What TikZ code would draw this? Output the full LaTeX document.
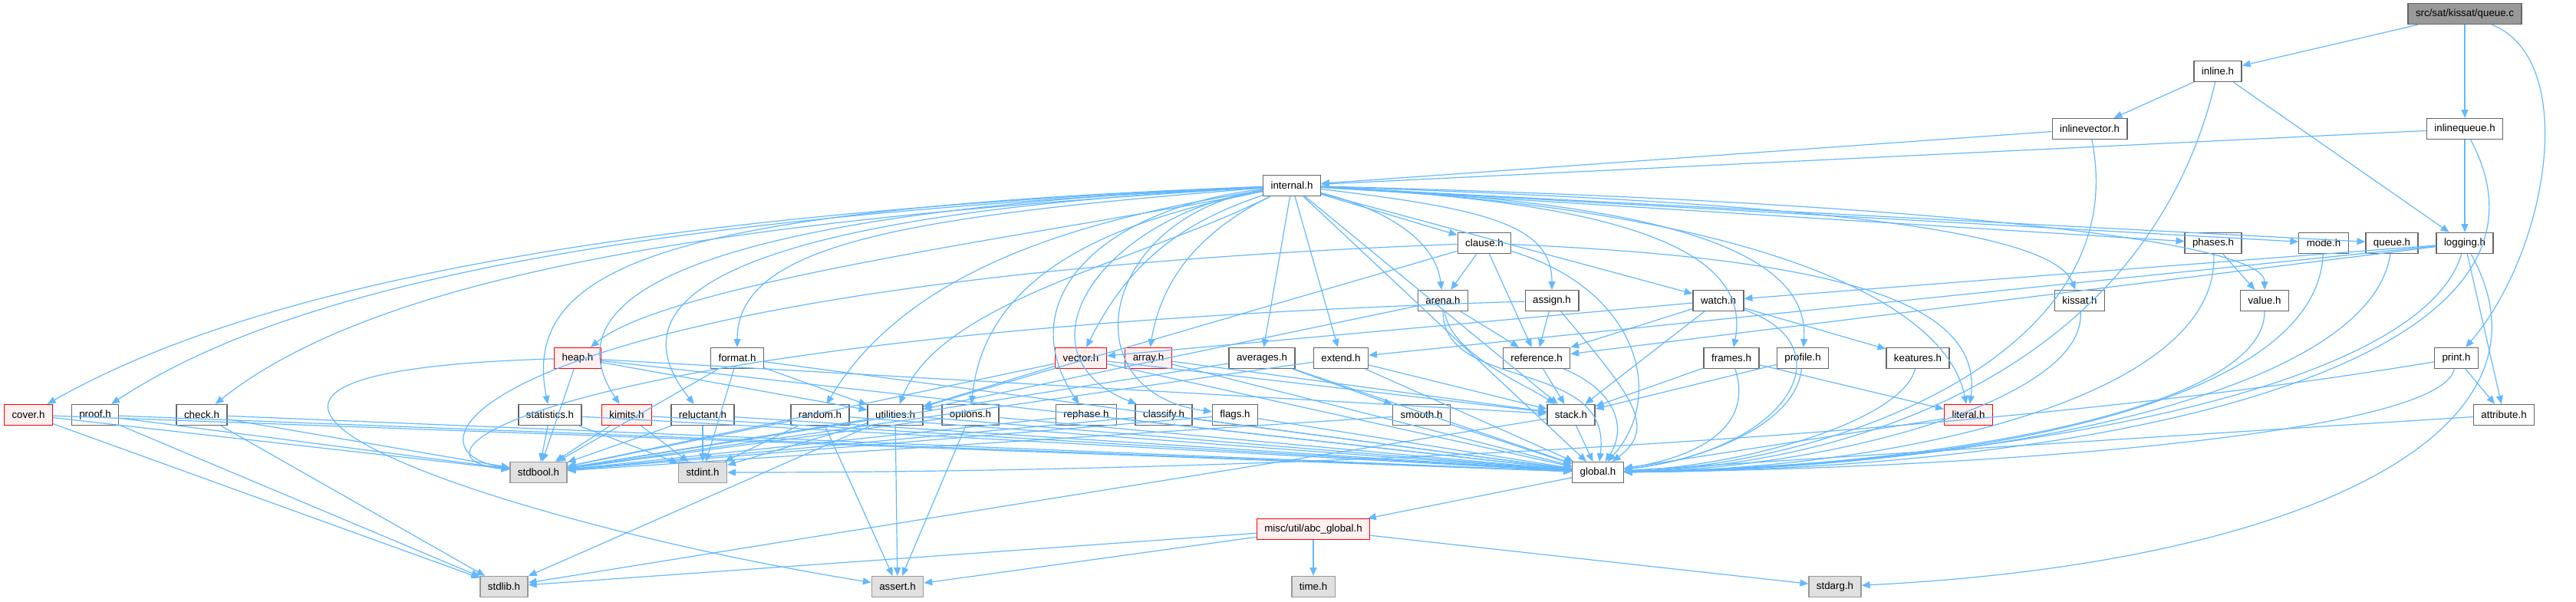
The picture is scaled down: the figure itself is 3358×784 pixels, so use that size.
\documentclass[tikz,border=0pt]{standalone}
\usepackage{fontspec}
\setmainfont{Liberation Sans}
\usetikzlibrary{arrows.meta}
\definecolor{edgec}{HTML}{63B8FF}
\definecolor{bordc}{HTML}{666666}
\definecolor{redc}{HTML}{FF0000}
\definecolor{pinkc}{HTML}{FFF0F0}
\definecolor{sysb}{HTML}{999999}
\definecolor{sysf}{HTML}{E0E0E0}
\definecolor{rootf}{HTML}{999999}
\tikzset{
  base/.style={draw, line width=0.33pt, minimum height=6.75pt, inner xsep=2.5pt, inner ysep=0pt,
    font=\fontsize{3.33}{3.8}\selectfont, text=black, anchor=center},
  nn/.style={base, draw=bordc, fill=white},
  rn/.style={base, draw=redc, fill=pinkc},
  sn/.style={base, draw=sysb, fill=sysf},
  rootn/.style={base, draw=bordc, fill=rootf},
  e/.style={draw=edgec, line width=0.3pt, -{Triangle[length=2.7pt,width=2.25pt]}},
}
\begin{document}
\begin{tikzpicture}[x=0.25pt,y=-0.25pt]
\useasboundingbox (0,0) rectangle (3358,784);
% row 0-3
\node[rootn] (root) at (3213,18) {src/sat/kissat/queue.c};
\node[nn] (inline) at (2891,93) {inline.h};
\node[nn] (inlinevector) at (2724,168) {inlinevector.h};
\node[nn] (inlinequeue) at (3213,168) {inlinequeue.h};
\node[nn] (internal) at (1684,242) {internal.h};
% row 4
\node[nn] (clause) at (1935,317) {clause.h};
\node[nn] (phases) at (2885,317) {phases.h};
\node[nn] (mode) at (3029,317) {mode.h};
\node[nn] (queueh) at (3118,317) {queue.h};
\node[nn] (logging) at (3213,317) {logging.h};
% row 5
\node[nn] (arena) at (1881,392) {arena.h};
\node[nn] (assign) at (2023,392) {assign.h};
\node[nn] (watch) at (2240,392) {watch.h};
\node[nn] (kissat) at (2711,392) {kissat.h};
\node[nn] (value) at (2952,392) {value.h};
% row 6
\node[rn] (heap) at (753,467) {heap.h};
\node[nn] (format) at (961,467) {format.h};
\node[rn] (vector) at (1409,467) {vector.h};
\node[rn] (array) at (1497,467) {array.h};
\node[nn] (averages) at (1645,467) {averages.h};
\node[nn] (extend) at (1748,467) {extend.h};
\node[nn] (reference) at (2003,467) {reference.h};
\node[nn] (frames) at (2257,467) {frames.h};
\node[nn] (profile) at (2350,467) {profile.h};
\node[nn] (keatures) at (2500,467) {keatures.h};
\node[nn] (print) at (3202,467) {print.h};
% row 7
\node[rn] (cover) at (37,541) {cover.h};
\node[nn] (proof) at (124,541) {proof.h};
\node[nn] (check) at (263,541) {check.h};
\node[nn] (statistics) at (717,541) {statistics.h};
\node[rn] (kimits) at (817,541) {kimits.h};
\node[nn] (reluctant) at (916,541) {reluctant.h};
\node[nn] (random) at (1069,541) {random.h};
\node[nn] (utilities) at (1167,541) {utilities.h};
\node[nn] (options) at (1265,541) {options.h};
\node[nn] (rephase) at (1416,541) {rephase.h};
\node[nn] (classify) at (1517,541) {classify.h};
\node[nn] (flags) at (1610,541) {flags.h};
\node[nn] (smooth) at (1853,541) {smooth.h};
\node[nn] (stack) at (2048,541) {stack.h};
\node[rn] (literal) at (2566,541) {literal.h};
\node[nn] (attribute) at (3264,541) {attribute.h};
% row 8-10
\node[sn] (stdbool) at (702,616) {stdbool.h};
\node[sn] (stdint) at (916,616) {stdint.h};
\node[nn] (global) at (2083,616) {global.h};
\node[rn] (abcglobal) at (1712,690) {misc/util/abc\_global.h};
\node[sn] (stdlib) at (657,765) {stdlib.h};
\node[sn] (assert) at (1170,765) {assert.h};
\node[sn] (time) at (1712,765) {time.h};
\node[sn] (stdarg) at (2392,765) {stdarg.h};

% ---- edges (coordinates: y grows downwards)
\draw[e] (root) -- (inline);
\draw[e] (root) -- (inlinequeue);
\draw[e] (root) .. controls +(150,60) and +(120,-140) .. (print);
\draw[e] (inline) -- (inlinevector);
\draw[e] (inline) -- (logging);
\draw[e] (inline) .. controls +(-90,380) and +(350,-10) .. (global);
\draw[e] (inlinevector) -- (internal);
\draw[e] (inlinevector) .. controls +(60,300) and +(300,-10) .. (global);
\draw[e] (inlinequeue) -- (internal);
\draw[e] (inlinequeue) -- (logging);
\draw[e] (inlinequeue) .. controls +(160,300) and +(700,-5) .. (global);
% internal
\draw[e] (internal) .. controls +(-700,30) and +(350,-200) .. (cover);
\draw[e] (internal) .. controls +(-700,35) and +(300,-200) .. (proof);
\draw[e] (internal) .. controls +(-650,40) and +(250,-200) .. (check);
\draw[e] (internal) .. controls +(-300,60) and +(120,-100) .. (heap);
\draw[e] (internal) .. controls +(-800,30) and +(-40,-200) .. (statistics);
\draw[e] (internal) .. controls +(-800,35) and +(-100,-150) .. (kimits);
\draw[e] (internal) .. controls +(-750,40) and +(-120,-150) .. (reluctant);
\draw[e] (internal) .. controls +(-500,40) and +(0,-150) .. (format);
\draw[e] (internal) .. controls +(-250,40) and +(120,-200) .. (random);
\draw[e] (internal) .. controls +(-200,100) and +(60,-150) .. (utilities);
\draw[e] (internal) .. controls +(-200,40) and +(20,-200) .. (options);
\draw[e] (internal) .. controls +(-150,50) and +(60,-120) .. (vector);
\draw[e] (internal) .. controls +(-100,50) and +(20,-120) .. (array);
\draw[e] (internal) .. controls +(-250,30) and +(-100,-150) .. (rephase);
\draw[e] (internal) .. controls +(-250,40) and +(-200,-80) .. (classify);
\draw[e] (internal) .. controls +(-250,40) and +(-220,-30) .. (flags);
\draw[e] (internal) -- (averages);
\draw[e] (internal) -- (extend);
\draw[e] (internal) -- (stack);
\draw[e] (internal) -- (clause);
\draw[e] (internal) .. controls +(120,30) and +(-10,-80) .. (arena);
\draw[e] (internal) .. controls +(250,30) and +(0,-100) .. (assign);
\draw[e] (internal) -- (watch);
\draw[e] (internal) .. controls +(400,20) and +(30,-150) .. (frames);
\draw[e] (internal) .. controls +(450,20) and +(10,-150) .. (profile);
\draw[e] (internal) .. controls +(600,20) and +(-40,-100) .. (kissat);
\draw[e] (internal) .. controls +(600,30) and +(-30,-150) .. (literal);
\draw[e] (internal) -- (phases);
\draw[e] (internal) .. controls +(800,20) and +(0,-80) .. (value);
\draw[e] (internal) -- (mode);
\draw[e] (internal) -- (queueh);
\draw[e] (internal) -- (global);
% logging, print, attribute
\draw[e] (logging) -- (extend);
\draw[e] (logging) -- (reference);
\draw[e] (logging) -- (watch);
\draw[e] (logging) -- (attribute);
\draw[e] (logging) .. controls +(-60,200) and +(500,-10) .. (global);
\draw[e] (logging) .. controls +(140,250) and +(600,-30) .. (stdarg);
\draw[e] (print) -- (attribute);
\draw[e] (print) .. controls +(-20,100) and +(500,-5) .. (global);
\draw[e] (print) .. controls +(-600,100) and +(800,0) .. (stdint);
\draw[e] (attribute) -- (global);
% singles to global
\draw[e] (mode) .. controls +(-10,220) and +(450,-5) .. (global);
\draw[e] (queueh) .. controls +(-30,200) and +(500,-5) .. (global);
\draw[e] (phases) -- (value);
\draw[e] (phases) .. controls +(10,200) and +(400,-5) .. (global);
\draw[e] (value) .. controls +(0,150) and +(400,-5) .. (global);
\draw[e] (kissat) .. controls +(10,130) and +(300,-5) .. (global);
\draw[e] (keatures) .. controls +(-20,80) and +(200,-10) .. (global);
\draw[e] (literal) -- (global);
\draw[e] (profile) -- (stack);
\draw[e] (profile) .. controls +(-10,90) and +(130,-15) .. (global);
\draw[e] (frames) -- (literal);
\draw[e] (frames) -- (stack);
\draw[e] (frames) .. controls +(30,90) and +(130,-20) .. (global);
\draw[e] (watch) -- (keatures);
\draw[e] (watch) -- (reference);
\draw[e] (watch) -- (stack);
\draw[e] (watch) -- (vector);
\draw[e] (watch) .. controls +(170,60) and +(250,-30) .. (global);
\draw[e] (reference) -- (stack);
\draw[e] (reference) .. controls +(100,40) and +(40,-60) .. (global);
\draw[e] (stack) -- (global);
\draw[e] (stack) -- (stdlib);
\draw[e] (assign) -- (reference);
\draw[e] (assign) .. controls +(100,120) and +(80,-60) .. (global);
\draw[e] (assign) .. controls +(-1300,40) and +(-200,-20) .. (stdbool);
\draw[e] (clause) -- (arena);
\draw[e] (clause) -- (reference);
\draw[e] (clause) .. controls +(450,20) and +(20,-150) .. (literal);
\draw[e] (clause) -- (utilities);
\draw[e] (clause) .. controls +(200,60) and +(90,-100) .. (global);
\draw[e] (clause) .. controls +(-1300,50) and +(-200,-30) .. (stdbool);
\draw[e] (arena) -- (reference);
\draw[e] (arena) .. controls +(10,70) and +(-60,-40) .. (stack);
\draw[e] (arena) -- (utilities);
\draw[e] (arena) .. controls +(0,120) and +(20,-150) .. (global);
\draw[e] (averages) -- (smooth);
\draw[e] (averages) -- (global);
\draw[e] (averages) -- (stdbool);
\draw[e] (extend) -- (stack);
\draw[e] (extend) -- (global);
\draw[e] (extend) -- (stdbool);
\draw[e] (smooth) -- (global);
\draw[e] (smooth) -- (stdbool);
\draw[e] (vector) -- (stack);
\draw[e] (vector) -- (utilities);
\draw[e] (vector) -- (global);
\draw[e] (vector) -- (stdbool);
\draw[e] (array) -- (stack);
\draw[e] (array) -- (global);
\draw[e] (heap) -- (stack);
\draw[e] (heap) -- (utilities);
\draw[e] (heap) -- (global);
\draw[e] (heap) -- (stdbool);
\draw[e] (heap) .. controls +(-700,20) and +(-500,-80) .. (assert);
\draw[e] (format) -- (utilities);
\draw[e] (format) -- (global);
\draw[e] (format) -- (stdint);
\draw[e] (format) -- (stdbool);
\draw[e] (utilities) -- (global);
\draw[e] (utilities) -- (stdbool);
\draw[e] (utilities) -- (stdint);
\draw[e] (utilities) -- (assert);
\draw[e] (utilities) -- (stdlib);
\draw[e] (random) -- (assert);
\draw[e] (random) -- (stdint);
\draw[e] (random) -- (stdbool);
\draw[e] (random) -- (global);
\draw[e] (options) -- (assert);
\draw[e] (options) -- (global);
\draw[e] (options) -- (stdbool);
\draw[e] (rephase) -- (global);
\draw[e] (rephase) -- (stdbool);
\draw[e] (classify) -- (global);
\draw[e] (classify) -- (stdbool);
\draw[e] (flags) -- (global);
\draw[e] (flags) -- (stdbool);
\draw[e] (reluctant) -- (stdint);
\draw[e] (reluctant) -- (stdbool);
\draw[e] (reluctant) -- (global);
\draw[e] (kimits) -- (stdint);
\draw[e] (kimits) -- (stdbool);
\draw[e] (kimits) -- (global);
\draw[e] (statistics) -- (stdbool);
\draw[e] (statistics) -- (stdint);
\draw[e] (statistics) -- (global);
\draw[e] (check) -- (stdbool);
\draw[e] (check) -- (stdlib);
\draw[e] (check) -- (global);
\draw[e] (proof) -- (stdbool);
\draw[e] (proof) -- (stdlib);
\draw[e] (proof) -- (global);
\draw[e] (cover) -- (stdlib);
\draw[e] (cover) -- (stdbool);
\draw[e] (cover) -- (global);
\draw[e] (global) -- (abcglobal);
\draw[e] (abcglobal) -- (stdlib);
\draw[e] (abcglobal) -- (assert);
\draw[e] (abcglobal) -- (time);
\draw[e] (abcglobal) -- (stdarg);
\end{tikzpicture}
\end{document}
